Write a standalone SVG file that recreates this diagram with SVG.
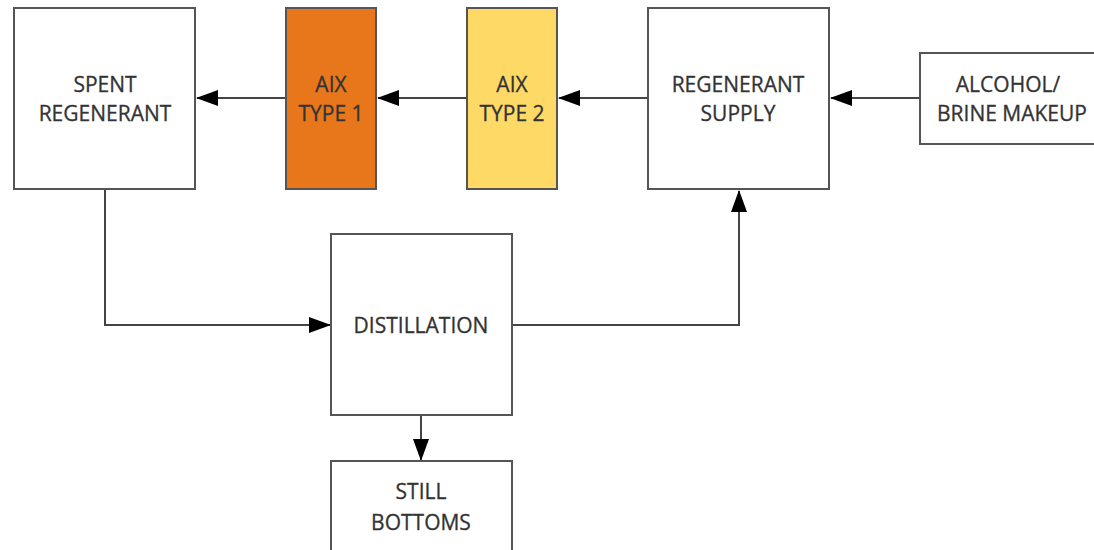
<svg xmlns="http://www.w3.org/2000/svg" width="1094" height="550" viewBox="0 0 1094 550">
<defs>
<style>
.box{fill:#fff;stroke:#555;stroke-width:2}
.t{font-family:"Open Sans","Liberation Sans",sans-serif;font-size:21px;fill:#333;text-anchor:middle;stroke:#333;stroke-width:0.3}
.c{fill:none;stroke:#444;stroke-width:2}
</style>
<marker id="ah" viewBox="0 0 22 16" refX="21" refY="8" markerWidth="22" markerHeight="16" markerUnits="userSpaceOnUse" orient="auto">
<path d="M0,0 L22,8 L0,16 Z" fill="#000"/>
</marker>
</defs>
<rect width="1094" height="550" fill="#fff"/>
<g id="connectors">
<line class="c" x1="920" y1="98" x2="831" y2="98" marker-end="url(#ah)"/>
<line class="c" x1="648" y1="98" x2="559" y2="98" marker-end="url(#ah)"/>
<line class="c" x1="467" y1="98" x2="378" y2="98" marker-end="url(#ah)"/>
<line class="c" x1="286" y1="98" x2="197" y2="98" marker-end="url(#ah)"/>
<polyline class="c" points="105,190 105,325 330,325" marker-end="url(#ah)"/>
<polyline class="c" points="513,325 739,325 739,191" marker-end="url(#ah)"/>
<line class="c" x1="421" y1="416" x2="421" y2="460" marker-end="url(#ah)"/>
</g>
<g id="spent">
<rect class="box" x="14" y="8" width="181" height="181"/>
<text class="t" x="105" y="92">SPENT</text>
<text class="t" x="105" y="121">REGENERANT</text>
</g>
<g id="aix1">
<rect class="box" x="286" y="8" width="90" height="181" style="fill:#E8761A"/>
<text class="t" x="331" y="92">AIX</text>
<text class="t" x="331" y="121">TYPE 1</text>
</g>
<g id="aix2">
<rect class="box" x="467" y="8" width="90" height="181" style="fill:#FFD966"/>
<text class="t" x="512" y="92">AIX</text>
<text class="t" x="512" y="121">TYPE 2</text>
</g>
<g id="supply">
<rect class="box" x="648" y="8" width="181" height="181"/>
<text class="t" x="738" y="92">REGENERANT</text>
<text class="t" x="738" y="121">SUPPLY</text>
</g>
<g id="makeup">
<rect class="box" x="920" y="53" width="184" height="91"/>
<text class="t" x="1008" y="92">ALCOHOL/</text>
<text class="t" x="1012" y="121">BRINE MAKEUP</text>
</g>
<g id="distillation">
<rect class="box" x="331" y="234" width="181" height="181"/>
<text class="t" x="421" y="333">DISTILLATION</text>
</g>
<g id="bottoms">
<rect class="box" x="331" y="461" width="181" height="100"/>
<text class="t" x="421" y="499">STILL</text>
<text class="t" x="421" y="530">BOTTOMS</text>
</g>
</svg>
